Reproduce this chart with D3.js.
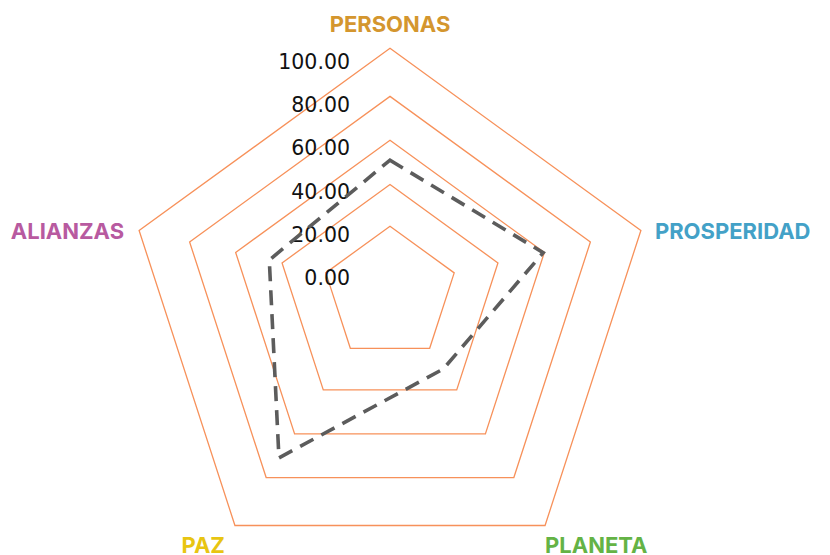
<!doctype html>
<html lang="es">
<head>
  <meta charset="utf-8">
  <title>Radar ODS</title>
  <style>
    body { margin: 0; background: #fff; }
    svg { display: block; }
    .ring {
      fill: none;
      stroke: #f7915a;
      stroke-width: 1.3;
    }
    .serie {
      fill: none;
      stroke: #5c5c5c;
      stroke-width: 3.6;
      stroke-dasharray: 15 9;
    }
    .tick-labels text {
      font-family: "DejaVu Sans", sans-serif;
      font-size: 20.5px;
      fill: #111;
    }
    .cat {
      font-family: Inter, sans-serif;
      font-weight: 700;
      font-size: 22px;
    }
  </style>
</head>
<body>
<script src="https://cdn.jsdelivr.net/npm/d3@7"></script>
<script>

// datos
var categories = ["PERSONAS", "PROSPERIDAD", "PLANETA", "PAZ", "ALIANZAS"];
var values = [51, 59.5, 30, 71, 45.5];
var ringLevels = [20, 40, 60, 80, 100];
var tickLabels = [0, 20, 40, 60, 80, 100];

var catColors = ["#d4962e", "#43a1c7", "#64b345", "#e8c512", "#b85aa0"];

var width = 830, height = 555;
var cx = 390, cy = 287.4;
// the rings are not concentric in the original: centre drops a bit as radius grows
var shift = 0.0935;

// radial scale
var r = d3.scaleLinear()
  .domain([0, 20, 40, 60, 80, 100])
  .range([0, 67.5, 113.5, 162.3, 210.7, 263.8]);

var angle = d3.scalePoint()
  .domain(categories)
  .range([0, 2 * Math.PI * (categories.length - 1) / categories.length]);

function point(cat, v) {
  var a = angle(cat), rad = r(v);
  return [cx + rad * Math.sin(a), cy + rad * (shift - Math.cos(a))];
}

var svg = d3.select("body").append("svg")
  .attr("width", width)
  .attr("height", height);

var line = d3.line().curve(d3.curveLinearClosed);

// rings
svg.append("g").selectAll("path")
  .data(ringLevels)
  .enter().append("path")
  .attr("class", "ring")
  .attr("d", function(lv) {
    return line(categories.map(function(c) { return point(c, lv); }));
  });

// tick labels, evenly spaced on the left of the top axis
var yTicks = d3.scaleLinear().domain([0, 100]).range([278.3, 61.7]);
var axis = d3.axisLeft(yTicks)
  .tickValues(tickLabels)
  .tickSize(0)
  .tickPadding(0)
  .tickFormat(d3.format(".2f"));

svg.append("g")
  .attr("class", "tick-labels")
  .attr("transform", "translate(350,0)")
  .call(axis)
  .call(function(g) { g.select(".domain").remove(); });

// serie
svg.append("path")
  .attr("class", "serie")
  .attr("d", line(categories.map(function(c, i) { return point(c, values[i]); })));

// category labels
svg.append("g").selectAll("text")
  .data(categories)
  .enter().append("text")
  .attr("class", "cat")
  .attr("fill", function(d, i) { return catColors[i]; })
  .each(function(d) {
    var a = angle(d), p = point(d, 100);
    var s = Math.sin(a), c = Math.cos(a);
    var t = d3.select(this);
    if (Math.abs(s) < 0.1) {
      t.attr("x", p[0]).attr("y", p[1] - 16).attr("text-anchor", "middle");
    } else if (c > 0) {
      t.attr("x", p[0] + (s > 0 ? 14 : -15)).attr("y", p[1] + 8)
        .attr("text-anchor", s > 0 ? "start" : "end");
    } else {
      t.attr("x", p[0] + (s > 0 ? 0 : -10)).attr("y", p[1] + 28)
        .attr("text-anchor", s > 0 ? "start" : "end");
    }
  })
  .text(function(d) { return d; });

</script>
</body>
</html>
